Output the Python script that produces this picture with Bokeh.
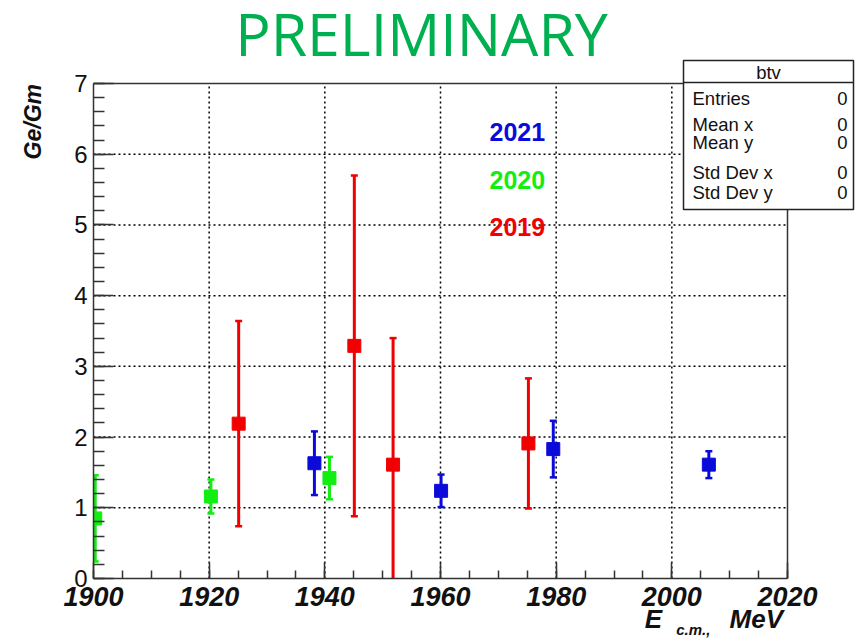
from bokeh.plotting import figure
from bokeh.models import Range1d, FixedTicker, LinearAxis
from bokeh.core.properties import value
from bokeh.embed import file_html
from bokeh.resources import INLINE

# Ge/Gm ratio vs c.m. energy, three data-taking seasons
e_2021 = [1938.2, 1960.1, 1979.5, 2006.4]
r_2021 = [1.63, 1.24, 1.83, 1.61]
d_2021 = [0.45, 0.23, 0.40, 0.19]

e_2020 = [1900.3, 1920.3, 1940.8]
r_2020 = [0.85, 1.16, 1.42]
d_2020 = [0.61, 0.24, 0.30]

e_2019 = [1925.1, 1945.1, 1951.8, 1975.2]
r_2019 = [2.19, 3.29, 1.61, 1.91]
d_2019 = [1.45, 2.41, 1.79, 0.92]

seasons = ["2021", "2020", "2019"]
x_major = [1900, 1920, 1940, 1960, 1980, 2000, 2020]
y_major = [0, 1, 2, 3, 4, 5, 6, 7]
stat_title = "btv"
stat_names = ["Entries", "Mean x", "Mean y", "Std Dev x", "Std Dev y"]
stat_values = ["0", "0", "0", "0", "0"]

BLUE, GREEN, RED = "#0b0bd9", "#12ee12", "#f00000"
HELV = "Liberation Sans"
INK = "#111111"

# canvas geometry (pixels): frame fills the canvas above the x axis
W, H = 857, 641
LEFT, BOTTOM = 93, 578
X_AXIS_END_PX, Y_AXIS_END_PX = 787, 83
X0, X1 = x_major[0], x_major[-1]
Y0, Y1 = y_major[0], y_major[-1]
ppx = (X_AXIS_END_PX - LEFT) / (X1 - X0)
ppy = (BOTTOM - Y_AXIS_END_PX) / (Y1 - Y0)


def dx(px):
    return X0 + (px - LEFT) / ppx


def dy(py):
    return Y0 + (BOTTOM - py) / ppy


p = figure(width=W, height=H, output_backend="svg", toolbar_location=None,
           x_range=Range1d(X0, dx(W)), y_range=Range1d(Y0, dy(0)),
           min_border_left=LEFT, min_border_right=0, min_border_top=0,
           min_border_bottom=H - BOTTOM)
p.outline_line_color = None
p.background_fill_color = "white"
p.border_fill_color = "white"
p.xgrid.visible = False
p.ygrid.visible = False

# axes (ROOT style: ticks inside, bounded to the frame)
x_minor = [X0 + 5 * i for i in range((X1 - X0) // 5 + 1)]
y_minor = [round(0.2 * i, 1) for i in range(int((Y1 - Y0) * 5) + 1)]
xa = p.xaxis[0]
xa.ticker = FixedTicker(ticks=x_major, minor_ticks=x_minor)
xa.bounds = (X0, X1)
xa.major_tick_in = 16
xa.major_tick_out = 0
xa.minor_tick_in = 8
xa.minor_tick_out = 0
xa.major_label_text_font = HELV
xa.major_label_text_font_style = "bold italic"
xa.major_label_text_font_size = "27px"
xa.major_label_standoff = 8

ya = p.yaxis[0]
ya.ticker = FixedTicker(ticks=y_major, minor_ticks=y_minor)
ya.bounds = (Y0, Y1)
ya.major_tick_in = 20
ya.major_tick_out = 0
ya.minor_tick_in = 11
ya.minor_tick_out = 0
ya.major_label_text_font = HELV
ya.major_label_text_font_size = "24px"
ya.major_label_standoff = 6

for ax in (xa, ya):
    ax.axis_line_width = 1.5
    ax.axis_line_color = "#333333"
    ax.major_tick_line_color = "#333333"
    ax.minor_tick_line_color = "#333333"
    ax.major_tick_line_width = 1.5
    ax.minor_tick_line_width = 1.5
    ax.major_label_text_color = INK


# axis titles: bare axes (no rule, no ticks) whose only tick labels are the titles
def title_axis(ticks, labels, size, standoff, orientation="horizontal"):
    ax = LinearAxis(ticker=FixedTicker(ticks=ticks, minor_ticks=[]),
                    major_label_overrides=dict(zip(ticks, labels)),
                    major_label_orientation=orientation,
                    major_label_standoff=standoff,
                    major_label_text_font=HELV,
                    major_label_text_font_style="bold italic",
                    major_label_text_font_size=size,
                    major_label_text_color=INK,
                    axis_line_color=None, major_tick_line_color=None,
                    minor_tick_line_color=None,
                    major_tick_in=0, major_tick_out=0,
                    minor_tick_in=0, minor_tick_out=0)
    return ax


x_e, x_mev, x_cm = round(dx(653), 1), round(dx(756), 1), round(dx(693), 1)
p.add_layout(title_axis([x_e, x_mev], ["E", "MeV"], "26px", -5), "below")
p.add_layout(title_axis([x_cm], ["c.m.,"], "15px", -16), "below")
y_t = round(dy(121), 2)
p.add_layout(title_axis([y_t], ["Ge/Gm"], "23px", 25, "vertical"), "left")

# dotted grid inside the frame
gx = x_major[1:-1]
p.segment(x0=gx, y0=[Y0] * len(gx), x1=gx, y1=[Y1] * len(gx),
          line_color="black", line_width=1.5, line_dash="2 3")
gy = y_major[1:-1]
p.segment(x0=[X0] * len(gy), y0=gy, x1=[X1] * len(gy), y1=gy,
          line_color="black", line_width=1.5, line_dash="2 3")

# frame top and right edges
p.segment(x0=[X0, X1], y0=[Y1, Y0], x1=[X1, X1], y1=[Y1, Y1],
          line_color="#333333", line_width=1.5)

# data points with vertical error bars
for xs, ys, ds, col in [(e_2020, r_2020, d_2020, GREEN),
                        (e_2019, r_2019, d_2019, RED),
                        (e_2021, r_2021, d_2021, BLUE)]:
    lo = [y - d for y, d in zip(ys, ds)]
    hi = [y + d for y, d in zip(ys, ds)]
    p.segment(x0=xs, y0=lo, x1=xs, y1=hi, line_color=col, line_width=3)
    p.scatter(x=xs + xs, y=lo + hi, marker="dash", size=7,
              line_color=col, line_width=2.5)
    p.scatter(x=xs, y=ys, marker="square", size=13,
              fill_color=col, line_color=col)

# season labels
for name, col, mid in zip(seasons, [BLUE, GREEN, RED], [131.5, 179, 226]):
    p.text(x=[dx(489)], y=[dy(mid)], text=[name], text_color=col,
           text_font=value(HELV), text_font_style="bold",
           text_font_size="25px", text_baseline="middle",
           text_align="left")

# PRELIMINARY banner
p.text(x=[dx(421)], y=[dy(32)], text=["PRELIMINARY"], text_color="#00b050",
       text_font=value("Open Sans"), text_font_size="59px",
       text_baseline="middle", text_align="center")

# statistics box
bl, br, bt, bb, bsep = 683, 853, 60, 209, 82
p.quad(left=[dx(bl)], right=[dx(br)], top=[dy(bt)], bottom=[dy(bb)],
       fill_color="white", line_color="#222222", line_width=1.5)
p.segment(x0=[dx(bl)], y0=[dy(bsep)], x1=[dx(br)], y1=[dy(bsep)],
          line_color="#222222", line_width=1.5)
p.text(x=[dx((bl + br) / 2)], y=[dy(72)], text=[stat_title],
       text_font=value(HELV), text_font_size="18.5px", text_color=INK,
       text_align="center", text_baseline="middle")
row_mid = [98, 124, 142, 172, 192]
p.text(x=[dx(692)] * len(stat_names), y=[dy(m) for m in row_mid],
       text=stat_names, text_font=value(HELV), text_font_size="18.5px",
       text_color=INK, text_align="left", text_baseline="middle")
p.text(x=[dx(847)] * len(stat_values), y=[dy(m) for m in row_mid],
       text=stat_values, text_font=value(HELV), text_font_size="18.5px",
       text_color=INK, text_align="right", text_baseline="middle")

open("out.html", "w").write(file_html(p, INLINE))
